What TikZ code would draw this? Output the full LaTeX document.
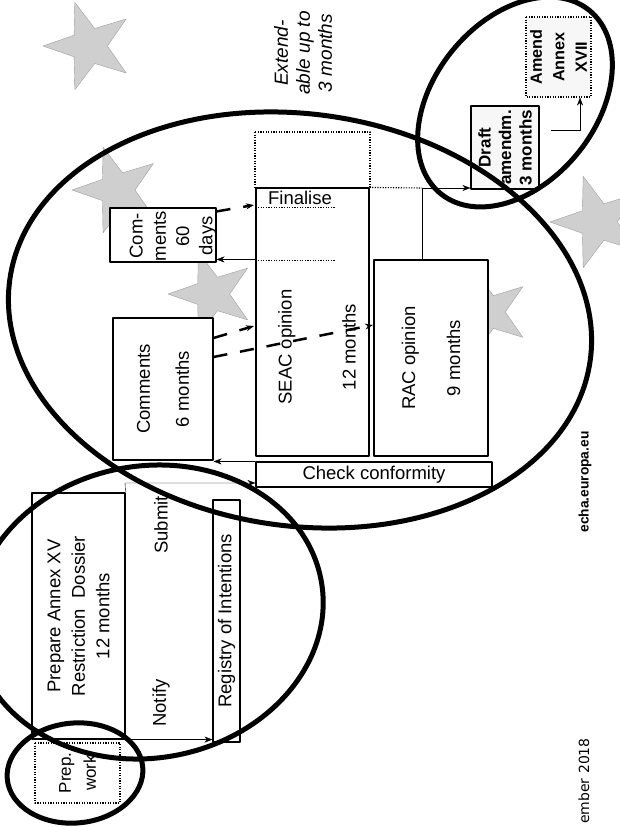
\documentclass[tikz,border=0pt]{standalone}
\usepackage{fontspec}
\setmainfont{Liberation Sans}
\newfontfamily\datefont{DejaVu Sans}
\usetikzlibrary{shapes.geometric,arrows.meta}

\begin{document}
\begin{tikzpicture}[x=1pt,y=-1pt,line join=round,>={Stealth[length=8pt,width=6pt]},
 font=\fontsize{18.5}{23}\selectfont,
 frame/.style={draw,fill=white,inner sep=0pt,line width=1.1pt},
 box/.style={frame,rotate=90,align=center},
 lbl/.style={rotate=90,align=center,inner sep=0pt},
 dots/.style={dash pattern=on 1.2pt off 1.4pt},
 dashd/.style={line width=2.5pt,dash pattern=on 14pt off 13pt},
 estar/.style={star,star points=5,star point ratio=2.5,shape border rotate=90,
   fill=gray!38,draw=gray!75,inner sep=0pt},
 ring/.style={line width=5pt}]
\useasboundingbox (0,0) rectangle (620,827);

% stars behind everything
\node[estar,minimum size=92pt] (s1) at (89,46) {};
\node[estar,minimum size=90pt] (s2) at (117,190) {};
\node[estar,minimum size=88pt] (s3) at (212,294) {};
\node[estar,minimum size=96pt] (s4) at (598,222) {};
\node[estar,minimum size=86pt] (s5) at (488,312) {};

% member state part
\node[box,dots,minimum width=60pt,minimum height=85pt,font=\fontsize{17}{25}\selectfont] (prep) at (77.5,773) {Prep.\\work};
\node[box,minimum width=246pt,minimum height=93pt,font=\fontsize{18.5}{24.5}\selectfont] (prepare) at (78.5,616) {Prepare Annex XV\\Restriction\ \ Dossier\\12 months};
\node[box,minimum width=242pt,minimum height=27pt] (registry) at (226.5,621) {Registry of Intentions};
\node[lbl] (notify) at (161,703) {Notify};
\node[lbl] (submit) at (161,525) {Submit};

% committees and consultation
\node[frame,minimum width=236pt,minimum height=25pt] (check) at (374,474.5) {Check conformity};
\node[box,minimum width=142pt,minimum height=100pt] (comm6) at (163,389) {Comments\\[16pt]6 months};
\node[box,minimum width=54pt,minimum height=106pt] (comm60) at (163,235) {};
\node[lbl,font=\fontsize{18.5}{23.3}\selectfont] (comm60txt) at (173,236) {Com-\\ments\\60\\days};
\node[box,minimum width=268pt,minimum height=113pt] (seac) at (312.5,322) {};
\node[lbl] (seactxt) at (317,347) {SEAC opinion\\[41pt]12 months};
\node[inner sep=0pt] (fin) at (300,198) {Finalise};
\draw[dots,line width=1pt] (258,207) -- (335,207) (258,260) -- (335,260);
\node[box,minimum width=196pt,minimum height=114pt] (rac) at (431,358) {RAC opinion\\[22pt]9 months};
\node[box,dots,fill=none,minimum width=56pt,minimum height=115pt] (ext) at (312.5,160) {};
\node[lbl,font=\itshape\fontsize{19}{22}\selectfont] (exttxt) at (303,53) {Extend-\\able up to\\3 months};

% commission part
\node[box,fill=gray!6,minimum width=83pt,minimum height=68pt,font=\bfseries\fontsize{17}{20.5}\selectfont] (draft) at (505,147.5) {Draft\\amendm.\\3 months};
\node[box,dots,fill=gray!6,minimum width=80pt,minimum height=65pt,font=\bfseries\fontsize{16.2}{22.5}\selectfont] (amend) at (558.5,57) {Amend\\Annex\\XVII};

\node[lbl,font=\bfseries\fontsize{13.8}{16}\selectfont] (web) at (585,482) {echa.europa.eu};
\node[lbl,anchor=east,font=\datefont\fontsize{14}{16}\selectfont] (date) at (584,738) {ember 2018};

% connectors
\coordinate (sub) at (125,483);
\draw[->] (prepare.south east) -- (sub) -- (sub -| check.west);
\draw[->] (prepare.south west) -- (prepare.south west -| registry.north);
\draw[->] (check.north west) -- (check.north west -| comm6.south);
\draw[->] (seac.north |- rac.east) -- (comm60.south |- rac.east);
\coordinate (a1) at (254,326);
\coordinate (a2) at (373,325);
\coordinate (a3) at (254,205);
\draw[dashd,->] ([yshift=51pt]comm6.south) -- (a1);
\draw[dashd,->] ([yshift=32pt]comm6.south) -- (a2);
\draw[dashd,->] ([yshift=-4pt]comm60.south east) -- (a3);
\coordinate (join) at (422,188);
\draw[dots,line width=1.1pt] (seac.south east) -- (join);
\draw[->] (join |- rac.east) -- (join) -- (join -| draft.north);
\coordinate (bend) at (580,130);
\draw[->] ([shift={(11pt,17.5pt)}]draft.south) -- (bend) -- (bend |- amend.west);

% rings
\draw[ring,rotate around={5:(75,773)}] (75,773) ellipse (68 and 50);
\draw[ring,rotate around={10:(148,612)}] (148,612) ellipse (176 and 146);
\draw[ring,rotate around={-8:(300,320)}] (300,320) ellipse (293 and 206);
\draw[ring,rotate around={51:(515,102)}] (515,102) ellipse (118 and 81);
\end{tikzpicture}
\end{document}
